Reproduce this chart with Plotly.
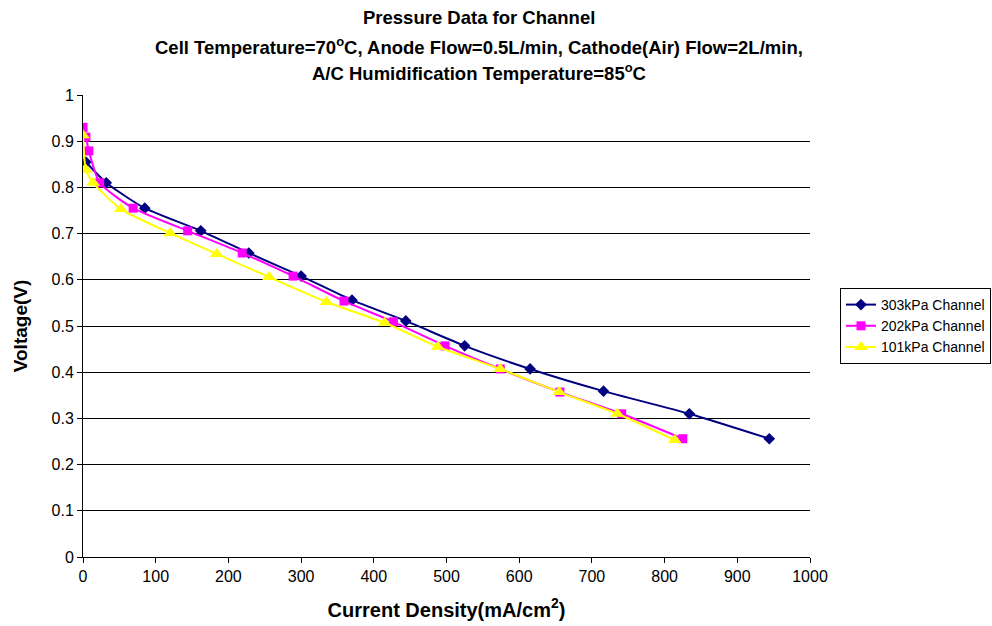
import plotly.graph_objects as go

x303 = [4, 32, 85, 162, 228, 300, 370, 444, 525, 615, 716, 834, 944]
y303 = [0.855, 0.81, 0.755, 0.706, 0.658, 0.608, 0.556, 0.511, 0.457, 0.407, 0.359, 0.31, 0.256]

x202 = [0, 4, 8, 23, 69, 144, 219, 289, 359, 427, 498, 574, 656, 741, 825]
y202 = [0.93, 0.909, 0.879, 0.81, 0.755, 0.706, 0.658, 0.608, 0.554, 0.509, 0.457, 0.407, 0.357, 0.31, 0.256]

x101 = [0, 4, 14, 52, 120, 184, 256, 335, 415, 488, 574, 655, 735, 814]
y101 = [0.913, 0.838, 0.81, 0.753, 0.701, 0.656, 0.606, 0.552, 0.507, 0.455, 0.407, 0.357, 0.31, 0.253]

names = ["303kPa Channel", "202kPa Channel", "101kPa Channel"]
colors = ["#000080", "#FF00FF", "#FFFF00"]
symbols = ["diamond", "square", "triangle-up"]
sizes = [9, 9, 12]

title_lines = [
    "<b>Pressure Data for Channel</b>",
    "<b>Cell Temperature=70<sup>o</sup>C, Anode Flow=0.5L/min, Cathode(Air) Flow=2L/min,</b>",
    "<b>A/C Humidification Temperature=85<sup>o</sup>C</b>",
]
title_y = [18, 46, 72]

fig = go.Figure()
for xs, ys, n, c, s, sz in [(x303, y303, names[0], colors[0], symbols[0], sizes[0]),
                            (x202, y202, names[1], colors[1], symbols[1], sizes[1]),
                            (x101, y101, names[2], colors[2], symbols[2], sizes[2])]:
    fig.add_trace(go.Scatter(x=xs, y=ys, name=n, mode="lines+markers",
                             line=dict(color=c, width=2, shape="spline", smoothing=0.6),
                             marker=dict(color=c, symbol=s, size=sz, line=dict(width=0))))

H = 626
L, R, T, B = 83, 182, 95, 69
PW = 992 - L - R
annots = []
for t, yy in zip(title_lines, title_y):
    annots.append(dict(text=t, xref="paper", x=(479 - L) / PW, xanchor="center",
                       yref="paper", y=(H - B - yy) / (H - T - B), yanchor="middle",
                       showarrow=False,
                       font=dict(size=18.5, family="Liberation Sans, Arial, sans-serif", color="black")))

fig.update_layout(
    width=992, height=626,
    paper_bgcolor="white", plot_bgcolor="white",
    margin=dict(l=L, r=R, t=T, b=B, autoexpand=False),
    font=dict(family="Liberation Sans, Arial, sans-serif", color="black"),
    annotations=annots,
    legend=dict(x=(840 - L) / PW, y=0.5, xanchor="left", yanchor="middle",
                bordercolor="black", borderwidth=1, bgcolor="white",
                font=dict(size=14), tracegroupgap=0),
    showlegend=True,
)
fig.update_xaxes(range=[0, 1000], dtick=100, showgrid=False,
                 showline=True, linecolor="black", linewidth=1,
                 ticks="outside", ticklen=5, tickcolor="black",
                 tickfont=dict(size=16), zeroline=False, automargin=False,
                 title=dict(text="<b>Current Density(mA/cm<sup>2</sup>)</b>", font=dict(size=20), standoff=18))
fig.update_yaxes(range=[0, 1], dtick=0.1, showgrid=True, gridcolor="black", gridwidth=1,
                 showline=True, linecolor="black", linewidth=1,
                 ticks="outside", ticklen=5, tickcolor="black",
                 tickfont=dict(size=16), zeroline=False, automargin=False,
                 title=dict(text="<b>Voltage(V)</b>", font=dict(size=19), standoff=18))

fig.write_html("out.html")
